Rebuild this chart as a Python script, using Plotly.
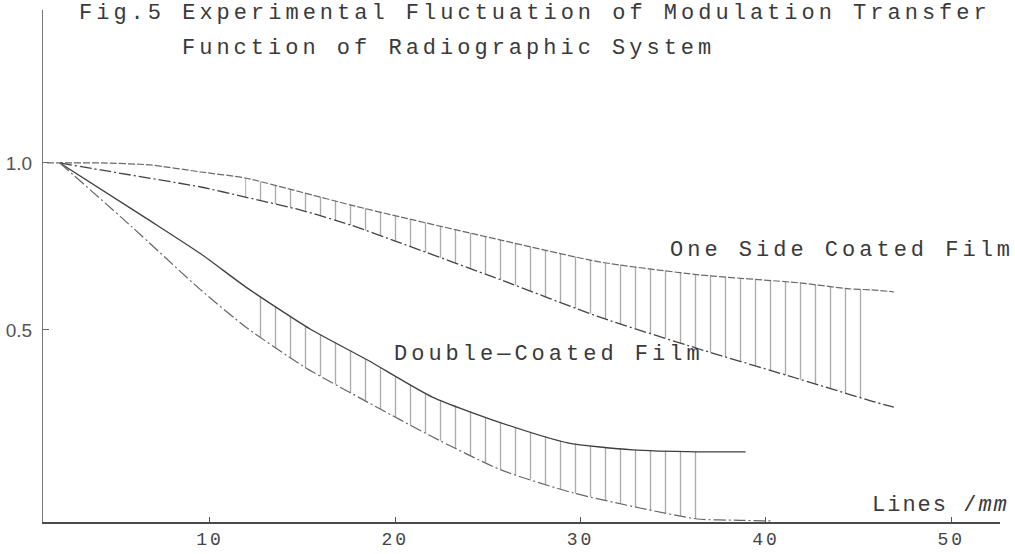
import plotly.graph_objects as go

# ---- data (x: lines/mm, y: MTF) ----
one_upper_x = [1.2, 4.1, 6.8, 9.5, 11.9, 14.9, 17.6, 20.3, 25.7, 31.0, 36.4, 41.8, 44.5, 45.7, 46.9]
one_upper_y = [1.0, 1.0, 0.994, 0.973, 0.955, 0.913, 0.874, 0.838, 0.769, 0.704, 0.665, 0.641, 0.623, 0.620, 0.614]
one_lower_x = [1.9, 4.1, 9.5, 11.9, 14.9, 17.6, 20.3, 25.7, 31.0, 36.4, 41.8, 45.7, 46.9]
one_lower_y = [1.0, 0.979, 0.928, 0.898, 0.859, 0.814, 0.760, 0.650, 0.539, 0.443, 0.353, 0.287, 0.269]

dbl_upper_x = [1.9, 6.8, 9.5, 12.0, 15.4, 18.5, 22.0, 25.7, 29.3, 32.8, 36.3, 38.9]
dbl_upper_y = [1.0, 0.826, 0.728, 0.626, 0.503, 0.410, 0.299, 0.222, 0.162, 0.141, 0.135, 0.135]
dbl_lower_x = [1.9, 5.8, 9.5, 12.0, 15.1, 18.5, 22.0, 25.7, 29.6, 33.2, 36.3, 38.6, 40.4]
dbl_lower_y = [1.0, 0.808, 0.620, 0.506, 0.389, 0.284, 0.180, 0.081, 0.012, -0.033, -0.066, -0.070, -0.072]

one_hatch = (11.9, 45.7)   # x-range of the hatched band
dbl_hatch = (12.0, 36.3)

x_ticks = [10, 20, 30, 40, 50]
y_ticks = [0.5, 1.0]
y_tick_text = ["0.5", "1.0"]

title_1 = "Fig.5 Experimental Fluctuation of Modulation Transfer"
title_2 = "Function of Radiographic System"
label_one = "One Side Coated Film"
label_dbl = "Double\u2014Coated Film"
x_label = "Lines /<i>mm</i>"

TXT = "#3a3a3a"
MONO = "Liberation Mono"


def spaced(s, px):
    return '<span style="letter-spacing:%dpx">%s</span>' % (px, s)


def band(ux, uy, lx, ly, rng):
    a, b = rng
    up = [(x, y) for x, y in zip(ux, uy) if a <= x <= b]
    lo = [(x, y) for x, y in zip(lx, ly) if a <= x <= b][::-1]
    pts = up + lo + [up[0]]
    return [p[0] for p in pts], [p[1] for p in pts]


fig = go.Figure()

for (ux, uy, lx, ly, rng) in [
    (one_upper_x, one_upper_y, one_lower_x, one_lower_y, one_hatch),
    (dbl_upper_x, dbl_upper_y, dbl_lower_x, dbl_lower_y, dbl_hatch),
]:
    bx, by = band(ux, uy, lx, ly, rng)
    fig.add_trace(go.Scatter(
        x=bx, y=by, mode="lines", fill="toself",
        line=dict(width=0, color="rgba(0,0,0,0)"),
        fillcolor="rgba(0,0,0,0)",
        fillpattern=dict(shape="|", size=15, solidity=0.09,
                         fgcolor="#555", bgcolor="rgba(0,0,0,0)"),
        hoverinfo="skip", showlegend=False,
    ))

curves = [
    (one_upper_x, one_upper_y, dict(color="#6a6a6a", width=1.2, dash="7px,2px")),
    (one_lower_x, one_lower_y, dict(color="#444", width=1.3, dash="12px,3px,2px,3px")),
    (dbl_upper_x, dbl_upper_y, dict(color="#3f3f3f", width=1.3)),
    (dbl_lower_x, dbl_lower_y, dict(color="#666", width=1.2, dash="12px,3px,2px,3px")),
]
for x, y, ln in curves:
    fig.add_trace(go.Scatter(x=x, y=y, mode="lines", line=dict(shape="spline", smoothing=0.6, **ln),
                             showlegend=False, hoverinfo="skip"))

annos = [
    (title_1, 0.0355, 0.994, 22, 4),
    (title_2, 0.143, 0.924, 22, 4),
    (label_one, 0.653, 0.531, 22, 4),
    (label_dbl, 0.365, 0.328, 22, 4),
]
for text, x, y, size, sp in annos:
    fig.add_annotation(text=spaced(text, sp), x=x, y=y, xref="paper", yref="paper",
                       xanchor="left", yanchor="middle", showarrow=False,
                       font=dict(family=MONO, size=size, color=TXT))
fig.add_annotation(text=spaced(x_label, 2), x=0.864, y=0.0332, xref="paper", yref="paper",
                   xanchor="left", yanchor="middle", showarrow=False,
                   font=dict(family=MONO, size=22, color=TXT))

fig.update_layout(
    width=1015, height=554,
    margin=dict(l=43, r=15, t=10, b=32, autoexpand=False),
    paper_bgcolor="white", plot_bgcolor="white",
    showlegend=False,
    xaxis=dict(range=[0.99, 52.63], showgrid=False, zeroline=False, automargin=False,
               showline=True, linecolor="#4a4a4a", linewidth=1.6,
               ticks="inside", ticklen=5, tickcolor="#555", tickwidth=1,
               tickvals=x_ticks, ticktext=[spaced(str(v), 3) for v in x_ticks],
               ticklabelstandoff=0,
               tickfont=dict(family=MONO, size=18, color="#444")),
    yaxis=dict(range=[-0.075, 1.458], showgrid=False, zeroline=False, automargin=False,
               showline=True, linecolor="#777", linewidth=1.2,
               ticks="inside", ticklen=6, tickcolor="#666", tickwidth=1,
               tickvals=y_ticks, ticktext=y_tick_text, ticklabelstandoff=6,
               tickfont=dict(family="Liberation Sans", size=19, color="#555")),
)

fig.write_html("out.html")
